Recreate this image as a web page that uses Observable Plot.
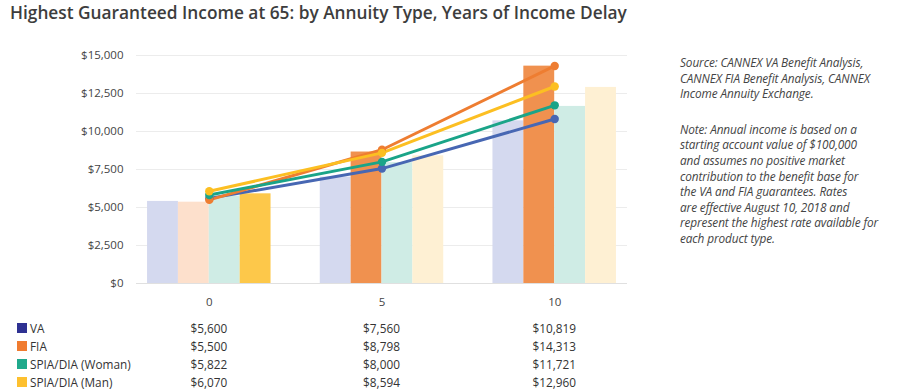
<!DOCTYPE html>
<html>
<head>
<meta charset="utf-8">
<script src="https://cdn.jsdelivr.net/npm/d3@7"></script>
<script src="https://cdn.jsdelivr.net/npm/@observablehq/plot@0.6"></script>
<style>
  html, body { margin: 0; padding: 0; background: #fff; }
  body { width: 900px; height: 392px; overflow: hidden; font-family: "Open Sans", sans-serif; }
  #wrap { position: relative; width: 900px; height: 392px; }
  #title { position: absolute; left: 10px; top: 1px; font-size: 17.3px; font-weight: 600; color: #3d3d3d; white-space: nowrap; }
  #chart { position: absolute; left: 0; top: 0; }
  #note { position: absolute; left: 680px; top: 55px; width: 220px; font-size: 11.8px; font-style: italic; color: #444; line-height: 15.6px; white-space: nowrap; letter-spacing: -0.1px; }
  #note p { margin: 0 0 20px 0; }
  .row { position: absolute; left: 0; width: 660px; height: 18px; font-size: 11.8px; color: #333; }
  .sw { position: absolute; left: 17px; top: 4px; width: 10px; height: 10px; }
  .lab { position: absolute; left: 30px; top: 0; line-height: 18px; white-space: nowrap; }
  .val { position: absolute; top: 0; line-height: 18px; transform: translateX(-50%); white-space: nowrap; }
</style>
</head>
<body>
<div id="wrap">
  <div id="title">Highest Guaranteed Income at 65: by Annuity Type, Years of Income Delay</div>
  <div id="chart"></div>
  <div id="note">
    <p>Source: CANNEX VA Benefit Analysis,<br>CANNEX FIA Benefit Analysis, CANNEX<br>Income Annuity Exchange.</p>
    <p>Note: Annual income is based on a<br>starting account value of $100,000<br>and assumes no positive market<br>contribution to the benefit base for<br>the VA and FIA guarantees. Rates<br>are effective August 10, 2018 and<br>represent the highest rate available for<br>each product type.</p>
  </div>
</div>
<script>
// ---- data ----
const groups = ["0", "5", "10"];
const series = ["VA", "FIA", "SPIA/DIA (Woman)", "SPIA/DIA (Man)"];

// line / table values
const lineVA = [5600, 7560, 10819];
const lineFIA = [5500, 8798, 14313];
const lineWoman = [5822, 8000, 11721];
const lineMan = [6070, 8594, 12960];

// bar heights
const barVA = [5400, 7000, 10700];
const barFIA = [5350, 8650, 14300];
const barWoman = [5750, 7950, 11650];
const barMan = [5900, 8400, 12900];

const yTicks = [0, 2500, 5000, 7500, 10000, 12500, 15000];

// ---- styles ----
const lineColors = ["#4767b3", "#ee7d31", "#1aa488", "#fcbf22"];
const swatchColors = ["#2e3192", "#f07b30", "#1fa98c", "#fdc02f"];
const barFull = ["#8d9bd3", "#f0914f", "#5cc3ad", "#fdc84a"];
const barPale = ["#d4d9ef", "#fde0cc", "#cfece5", "#fef0d3"];

const lineVals = [lineVA, lineFIA, lineWoman, lineMan];
const barVals = [barVA, barFIA, barWoman, barMan];

const barRows = [];
const lineRows = [];
groups.forEach((g, gi) => {
  const maxBar = d3.max(barVals, v => v[gi]);
  series.forEach((s, si) => {
    barRows.push({group: g, series: s, si, value: barVals[si][gi], hl: barVals[si][gi] === maxBar});
    lineRows.push({group: g, series: s, si, value: lineVals[si][gi]});
  });
});

const W = 660, H = 310, mL = 136, mR = 33, mT = 55, mB = 27;
const pInner = 0.285, pOuter = 0.064;
const step = (W - mL - mR) / (groups.length - pInner + 2 * pOuter);
const bw = step * (1 - pInner);
const sub = bw / series.length;

const fmt = d => "$" + d3.format(",")(d);

const plot = Plot.plot({
  width: W, height: H,
  marginLeft: mL, marginRight: mR, marginTop: mT, marginBottom: mB,
  style: {fontFamily: "Open Sans, sans-serif", fontSize: "11.5px", color: "#444", background: "transparent"},
  x: {domain: groups, paddingInner: pInner, paddingOuter: pOuter, round: false, label: null},
  y: {domain: [0, 15000], label: null},
  color: {type: "identity"},
  marks: [
    Plot.ruleY(yTicks.filter(d => d > 0), {stroke: "#ececec", strokeWidth: 1}),
    ...series.map((s, si) => Plot.barY(barRows.filter(d => d.si === si), {
      x: "group", y: "value",
      fill: d => d.hl ? barFull[si] : barPale[si],
      insetLeft: si * sub, insetRight: (series.length - 1 - si) * sub
    })),
    Plot.ruleY([0], {stroke: "#e0e0e0", strokeWidth: 1}),
    Plot.line(lineRows, {x: "group", y: "value", z: "series", stroke: d => lineColors[d.si], strokeWidth: 3}),
    Plot.dot(lineRows, {x: "group", y: "value", fill: d => lineColors[d.si], r: 4.2}),
    Plot.axisY({ticks: yTicks, tickSize: 0, tickPadding: 13, tickFormat: fmt, fill: "#444"}),
    Plot.axisX({tickSize: 0, tickPadding: 14, fill: "#444"})
  ]
});
document.getElementById("chart").appendChild(plot);

// ---- table below ----
const xs = plot.scale("x");
const centers = groups.map(g => xs.apply(g) + xs.bandwidth / 2);
const wrap = document.getElementById("wrap");
const rowTops = [319, 337, 355, 373];
series.forEach((s, si) => {
  const row = document.createElement("div");
  row.className = "row";
  row.style.top = rowTops[si] + "px";
  row.innerHTML = `<div class="sw" style="background:${swatchColors[si]}"></div><div class="lab">${s}</div>`;
  groups.forEach((g, gi) => {
    const v = document.createElement("div");
    v.className = "val";
    v.style.left = centers[gi] + "px";
    v.textContent = fmt(lineVals[si][gi]);
    row.appendChild(v);
  });
  wrap.appendChild(row);
});
</script>
</body>
</html>
